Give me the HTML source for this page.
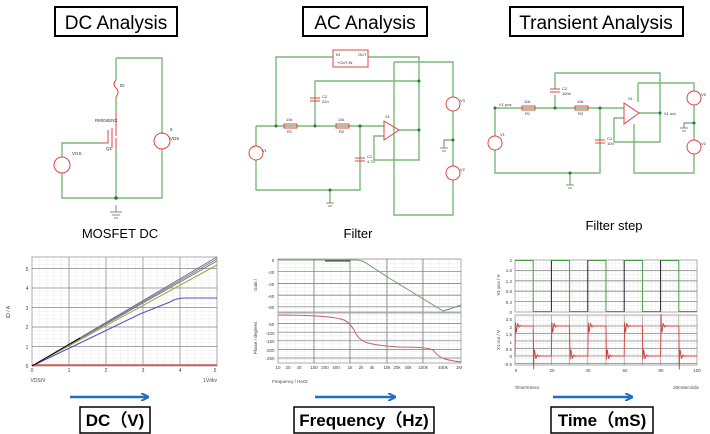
<!DOCTYPE html>
<html><head><meta charset="utf-8"><style>
html,body{margin:0;padding:0;background:#fff;}
svg{display:block;}
.t{font-family:"Liberation Sans",sans-serif;}
</style></head><body>
<svg id="s" width="710" height="434" viewBox="0 0 710 434" xmlns="http://www.w3.org/2000/svg">
<defs>
<pattern id="g1" width="7.4" height="3.9" patternUnits="userSpaceOnUse" x="32" y="366"><path d="M7.4 0V3.9M0 3.9H7.4" stroke="#ddd" stroke-width="0.6" fill="none"/></pattern>
<pattern id="g2" width="9" height="4" patternUnits="userSpaceOnUse" x="278" y="260"><path d="M9 0V4M0 4H9" stroke="#ddd" stroke-width="0.6" fill="none"/></pattern>
<pattern id="g3" width="3.6" height="3.8" patternUnits="userSpaceOnUse" x="515" y="260"><path d="M3.6 0V3.8M0 3.8H3.6" stroke="#ddd" stroke-width="0.5" fill="none"/></pattern>
<marker id="ah" markerWidth="8" markerHeight="8" refX="7" refY="4" orient="auto" markerUnits="userSpaceOnUse"><path d="M0 0L8 4L0 8" fill="none" stroke="#1f6fc0" stroke-width="2"/></marker>
</defs>

<!-- titles -->
<g class="t" font-size="19" text-anchor="middle" fill="#000">
<rect x="55" y="7" width="122" height="29" fill="none" stroke="#000" stroke-width="2"/>
<text x="116" y="29">DC Analysis</text>
<rect x="303" y="7" width="124" height="29" fill="none" stroke="#000" stroke-width="2"/>
<text x="365" y="29">AC Analysis</text>
<rect x="510" y="7" width="173" height="29" fill="none" stroke="#000" stroke-width="2"/>
<text x="596" y="29">Transient Analysis</text>
</g>
<g class="t" font-size="13" text-anchor="middle">
<text x="120" y="238">MOSFET DC</text>
<text x="358" y="238">Filter</text>
<text x="614" y="230">Filter step</text>
</g>

<!-- DC circuit -->
<g fill="none" stroke="#7ab87a" stroke-width="1.4">
<path d="M116 58H162V134M162 149V198H62V173M62 157V143H100M116 58V80M116 97V112M116 150V198"/>
</g>
<g fill="none" stroke="#d44" stroke-width="1">
<circle cx="162" cy="141" r="8"/><circle cx="62" cy="165" r="8"/>
<path d="M116 80q-4 4 0 8q4 4 0 9M112 128V148M116 124V136M116 138V150M100 143H108V130M116 112V124"/>
<path d="M116 205V212M110 212H122M112 215H120M114 218H118" stroke="#888"/>
</g>
<circle cx="116" cy="198" r="1.8" fill="#2a7a2a"/>
<g class="t" font-size="4.5" fill="#333">
<text x="120" y="87">ID</text><text x="95" y="122">R6004ENX</text><text x="106" y="150">Q1</text>
<text x="72" y="155">VGS</text><text x="170" y="131">5</text><text x="170" y="140">VDS</text>
</g>

<!-- AC circuit -->
<g fill="none" stroke="#7ab87a" stroke-width="1.4">
<path d="M276 126V57H333M368 57H419V160H374V136H384M315 126V81H419M256 126H384M256 126V146M256 160V190H360V126M360 126V155M360 165V190M330 190V203M399 130H419"/>
<path d="M394 62H453V97M453 111V166M453 180V215H394V62M453 140H444V148"/>
</g>
<rect x="333" y="50" width="35" height="17" fill="#fff" stroke="#d44" stroke-width="1"/>
<g fill="none" stroke="#d44" stroke-width="1">
<rect x="284" y="124" width="13" height="4"/><rect x="336" y="124" width="13" height="4"/>
<path d="M310 98H320M310 101H320M355 158H365M355 161H365"/>
<path d="M384 121L399 130L384 140Z"/>
<circle cx="256" cy="153" r="7"/><circle cx="453" cy="104" r="7"/><circle cx="453" cy="173" r="7"/>
<path d="M326 203H334M328 206H332M440 148H448M442 151H446" stroke="#888"/>
</g>
<g fill="#2a7a2a"><circle cx="276" cy="126" r="1.5"/><circle cx="315" cy="126" r="1.5"/><circle cx="360" cy="126" r="1.5"/><circle cx="330" cy="190" r="1.5"/><circle cx="419" cy="81" r="1.5"/><circle cx="419" cy="130" r="1.5"/><circle cx="453" cy="140" r="1.5"/></g>
<g class="t" font-size="4" fill="#333">
<text x="336" y="56">IN</text><text x="358" y="56">OUT</text><text x="337" y="64">+OUT,IN</text>
<text x="286" y="121">10k</text><text x="287" y="133">R1</text><text x="338" y="121">10k</text><text x="339" y="133">R2</text>
<text x="322" y="98">C2</text><text x="322" y="103">22n</text><text x="367" y="158">C1</text><text x="367" y="163">4.7n</text>
<text x="262" y="152">V1</text><text x="385" y="118">X1</text><text x="460" y="102">V3</text><text x="460" y="171">V2</text>
</g>

<!-- Transient circuit -->
<g fill="none" stroke="#7ab87a" stroke-width="1.4">
<path d="M495 108H624M495 108V136M495 150V173H600V108M600 108V138M600 148V173M570 173V185M555 108V95M555 89V73H660V142H614V118H624M639 113H660"/>
<path d="M638 83H694V91M694 105V140M694 154V173H634V124M638 83V102M694 123H684V128"/>
</g>
<g fill="none" stroke="#d44" stroke-width="1">
<rect x="522" y="106" width="13" height="4"/><rect x="575" y="106" width="13" height="4"/>
<path d="M550 89H560M550 92H560M595 140H605M595 143H605"/>
<path d="M624 103L639 113L624 124Z"/>
<circle cx="495" cy="143" r="7"/><circle cx="694" cy="98" r="7"/><circle cx="694" cy="147" r="7"/>
<path d="M566 185H574M568 188H572M680 128H688M682 131H686" stroke="#888"/>
</g>
<g fill="#2a7a2a"><circle cx="495" cy="108" r="1.5"/><circle cx="555" cy="108" r="1.5"/><circle cx="600" cy="108" r="1.5"/><circle cx="570" cy="173" r="1.5"/><circle cx="660" cy="113" r="1.5"/><circle cx="694" cy="123" r="1.5"/></g>
<g class="t" font-size="4" fill="#333">
<text x="499" y="106">V1 pos</text><text x="664" y="115">X1 out</text>
<text x="524" y="103">10k</text><text x="525" y="115">R1</text><text x="577" y="103">10k</text><text x="578" y="115">R2</text>
<text x="562" y="90">C2</text><text x="562" y="95">100n</text><text x="607" y="140">C1</text><text x="607" y="145">10n</text>
<text x="500" y="136">V1</text><text x="628" y="100">X1</text><text x="701" y="96">V5</text><text x="701" y="145">V2</text>
</g>

<!-- DC plot -->
<rect x="32" y="257" width="185" height="109" fill="url(#g1)" stroke="#999" stroke-width="0.8"/>
<g id="dcgrid" stroke="#888" stroke-width="0.7"></g>
<g fill="none" stroke-width="1">
<path d="M32 366L217 257" stroke="#b05080"/>
<path d="M32 366L217 259" stroke="#3aa0a0"/>
<path d="M32 366L217 261" stroke="#777"/>
<path d="M32 366L217 265" stroke="#a0a040"/>
<path d="M32 366L105 331L140 314L170 302Q176 298 185 298H217" stroke="#5050c0"/>
<path d="M32 365H217" stroke="#d05050" stroke-width="1.5"/>
<path d="M32 366L80 338" stroke="#000" stroke-width="1"/>
</g>
<g class="t" font-size="5" fill="#444" text-anchor="middle">
<text x="32" y="372">0</text><text x="69" y="372">1</text><text x="106" y="372">2</text><text x="143" y="372">3</text><text x="180" y="372">4</text><text x="215" y="372">5</text>
<text x="27" y="368">0</text><text x="27" y="349">1</text><text x="27" y="329">2</text><text x="27" y="310">3</text><text x="27" y="290">4</text><text x="27" y="271">5</text>
<text x="38" y="382">VDS/V</text><text x="210" y="382">1V/div</text>
<text x="10" y="312" transform="rotate(-90 10 312)">ID / A</text>
</g>

<!-- AC plot -->
<rect x="278" y="259" width="183" height="53" fill="url(#g2)" stroke="#999" stroke-width="0.8"/>
<rect x="278" y="313" width="183" height="50" fill="url(#g2)" stroke="#999" stroke-width="0.8"/>
<g id="acgrid" stroke="#888" stroke-width="0.7"></g>
<path d="M278 260H355Q362 260 366 263L389 278L443 311Q450 309 461 305" fill="none" stroke="#6a9a6a" stroke-width="1"/>
<path d="M325 261H350" stroke="#333" stroke-width="1"/>
<path d="M278 315Q330 315 344 320Q350 323 354 330Q358 340 368 343Q380 346 400 347Q428 347 433 350Q438 357 445 359Q452 361 461 362" fill="none" stroke="#c06060" stroke-width="1"/>
<g class="t" font-size="4.5" fill="#444" text-anchor="middle">
<text x="273" y="262">0</text><text x="271" y="274">-20</text><text x="271" y="286">-40</text><text x="271" y="298">-60</text><text x="271" y="309">-80</text>
<text x="271" y="326">-50</text><text x="270" y="335">-100</text><text x="270" y="343">-150</text><text x="270" y="352">-200</text><text x="270" y="360">-250</text>
<text x="278" y="369">10</text><text x="288" y="369">20</text><text x="299" y="369">40</text><text x="314" y="369">100</text><text x="325" y="369">200</text><text x="336" y="369">400</text><text x="350" y="369">1k</text><text x="361" y="369">2k</text><text x="372" y="369">4k</text><text x="387" y="369">10k</text><text x="397" y="369">20k</text><text x="408" y="369">40k</text><text x="423" y="369">100k</text><text x="443" y="369">400k</text><text x="459" y="369">1M</text>
<text x="290" y="383">Frequency / Hertz</text>
<text x="257" y="285" transform="rotate(-90 257 285)">Gain /</text>
<text x="257" y="338" transform="rotate(-90 257 338)">Phase / degrees</text>
</g>

<!-- Transient plot -->
<rect x="515" y="260" width="182" height="52" fill="url(#g3)" stroke="#999" stroke-width="0.8"/>
<rect x="515" y="315" width="182" height="50" fill="url(#g3)" stroke="#999" stroke-width="0.8"/>
<g id="trgrid" stroke-width="0.8"></g>
<path id="trout" fill="none" stroke="#d04040" stroke-width="0.9"/>
<g class="t" font-size="4.5" fill="#444" text-anchor="end">
<text x="512" y="262">2</text><text x="512" y="272">1.6</text><text x="512" y="283">1.2</text><text x="512" y="293">0.8</text><text x="512" y="304">0.4</text><text x="512" y="314">0</text>
<text x="512" y="321">2.5</text><text x="512" y="329">2</text><text x="512" y="336">1.5</text><text x="512" y="344">1</text><text x="512" y="351">0.5</text><text x="512" y="358">0</text><text x="512" y="366">-0.5</text>
</g>
<g class="t" font-size="4.5" fill="#444" text-anchor="middle">
<text x="516" y="372">0</text><text x="552" y="372">20</text><text x="588" y="372">40</text><text x="625" y="372">60</text><text x="661" y="372">80</text><text x="697" y="372">100</text>
<text x="527" y="389">Time/mSecs</text><text x="686" y="389">20mSecs/div</text>
<text x="500" y="285" transform="rotate(-90 500 285)">V1-pos / V</text>
<text x="500" y="340" transform="rotate(-90 500 340)">X1-out / V</text>
</g>

<!-- arrows and bottom labels -->
<g stroke="#1f6fc0" stroke-width="2.5" fill="none">
<path d="M70 397H148" marker-end="url(#ah)"/>
<path d="M315 397H395" marker-end="url(#ah)"/>
<path d="M553 397H632" marker-end="url(#ah)"/>
</g>
<g class="t" font-size="17" font-weight="bold" text-anchor="middle">
<rect x="80" y="407" width="70" height="26" fill="none" stroke="#000" stroke-width="1.5"/>
<text x="115" y="426">DC（V)</text>
<rect x="294" y="407" width="140" height="26" fill="none" stroke="#000" stroke-width="1.5"/>
<text x="364" y="426">Frequency（Hz)</text>
<rect x="551" y="407" width="102" height="26" fill="none" stroke="#000" stroke-width="1.5"/>
<text x="602" y="426">Time（mS)</text>
</g>
</svg>
<script>
var NS="http://www.w3.org/2000/svg";
function ln(g,x1,y1,x2,y2,c,w){var l=document.createElementNS(NS,"line");l.setAttribute("x1",x1);l.setAttribute("y1",y1);l.setAttribute("x2",x2);l.setAttribute("y2",y2);l.setAttribute("stroke",c);if(w)l.setAttribute("stroke-width",w);g.appendChild(l);}
var g=document.getElementById("dcgrid");
for(var i=1;i<5;i++)ln(g,32+37*i,257,32+37*i,366,"#888");
for(var j=1;j<6;j++)ln(g,32,366-19.5*j,217,366-19.5*j,"#888");
g=document.getElementById("acgrid");
[314,350,387,423].forEach(function(x){ln(g,x,259,x,312,"#666");ln(g,x,313,x,363,"#666");});
for(var k=1;k<5;k++)ln(g,278,260+11.7*k,461,260+11.7*k,"#777");
for(var k=1;k<6;k++)ln(g,278,315+8.6*k,461,315+8.6*k,"#777");
g=document.getElementById("trgrid");
for(var k=1;k<5;k++){ln(g,515,260+10.4*k,697,260+10.4*k,"#888");}
for(var k=1;k<7;k++){ln(g,515,318.5+7.5*k,697,318.5+7.5*k,"#888");}
for(var t=10;t<100;t+=10){var x=515+1.82*t;ln(g,x,260,x,312,(t%20==0)?"#223":"#4a9a4a",1);ln(g,x,315,x,365,"#888",0.6);}
for(var t=0;t<100;t+=20){ln(g,515+1.82*t,260.5,515+1.82*(t+10),260.5,"#4a9a4a",1);ln(g,515+1.82*(t+10),311.5,515+1.82*(t+20),311.5,"#4a9a4a",1);}
var d="",first=true;
for(var t=0;t<=100;t+=0.1){var n=Math.floor(t/10),tau=t-n*10,hi=(n%2==0);var base=hi?2:0,dir=hi?1:-1;
var v=base+dir*(tau<0.3? -2*(1-tau/0.3):0)+dir*0.9*Math.exp(-tau/0.9)*Math.cos(tau*4)*(tau>=0.3?1:0);
if(tau<0.3)v=hi?(tau/0.3)*2.8:2-(tau/0.3)*2.9;
var y=356-v*15,x=515+1.82*t;d+=(first?"M":"L")+x.toFixed(1)+" "+y.toFixed(1);first=false;}
document.getElementById("trout").setAttribute("d",d);
</script>
</body></html>
